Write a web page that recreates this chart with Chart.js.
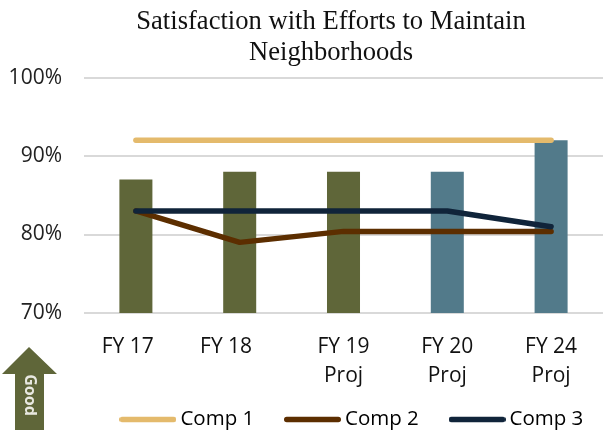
<!DOCTYPE html>
<html><head><meta charset="utf-8">
<style>
html,body{margin:0;padding:0;background:#fff;width:603px;height:433px;overflow:hidden}
#wrap{position:relative;width:603px;height:433px}
canvas{position:absolute;left:0;top:0}
#good{position:absolute;left:0;top:340px}
</style>
<script src="https://cdn.jsdelivr.net/npm/chart.js@4/dist/chart.umd.min.js"></script>
</head><body>
<div id="wrap">
<canvas id="c" width="603" height="433"></canvas>
<svg id="good" width="60" height="93" viewBox="0 340 60 93">
<path d="M29 347 L57 374 L44 374 L44 430 L15 430 L15 374 L2 374 Z" fill="#5f6639"/>
<text x="0" y="0" transform="translate(24.5 395) rotate(90)" text-anchor="middle" font-family="'Open Sans'" font-weight="700" font-size="16" fill="#e8e8e0">Good</text>
</svg>
</div>
<script>
const categories=[['FY 17   '],['FY 18     '],['FY 19','Proj'],['FY 20','Proj'],['FY 24','Proj']];
const barValues=[87,88,88,88,92];
const barColors=['#5f6639','#5f6639','#5f6639','#527a8a','#527a8a'];
const comp1=[92,92,92,92,92];
const comp2=[83,79,80.4,80.4,80.4];
const comp3=[83,83,83,83,81];
const titleLines=['Satisfaction with Efforts to Maintain','Neighborhoods'];
const yTicks=[70,80,90,100];
const line=(label,data,color,order)=>({type:'line',label,data,borderColor:color,backgroundColor:color,borderWidth:5.5,pointRadius:0,tension:0,borderCapStyle:'round',borderJoinStyle:'round',fill:false,order});
function swatch(color){
  const s=document.createElement('canvas');s.width=57;s.height=7;
  const g=s.getContext('2d');g.strokeStyle=color;g.lineWidth=5.5;g.lineCap='round';
  g.beginPath();g.moveTo(2.75,3.5);g.lineTo(54.25,3.5);g.stroke();
  return s;
}
const shift={id:'shift',afterLayout(ch){
  const t=ch.titleBlock; t.left=59; t.right=603;
  const l=ch.legend; l.left+=53; l.right+=53; l.top=373.2; l.bottom=433;
}};
new Chart(document.getElementById('c'),{
  data:{labels:categories,datasets:[
    line('Comp 1',comp1,'#e4ba6c',1),
    line('Comp 2',comp2,'#5c2e00',2),
    line('Comp 3',comp3,'#10243a',1),
    {type:'bar',label:'Score',data:barValues,backgroundColor:barColors,barPercentage:1,categoryPercentage:0.318,order:5}
  ]},
  plugins:[shift],
  options:{
    responsive:false,animation:false,
    layout:{padding:0},
    scales:{
      x:{grid:{display:false},border:{display:false},offset:true,
        ticks:{color:'#111',font:{family:'Open Sans',size:21,lineHeight:1.4},maxRotation:0,autoSkip:false,padding:11},
        afterFit(s){s.height=77;}},
      y:{min:70,max:100,grid:{color:'#d9d9d9',lineWidth:2,drawTicks:false},border:{display:false},
        afterBuildTicks(s){s.ticks=yTicks.map(v=>({value:v}));},
        ticks:{color:'#222',font:{family:'Open Sans',size:21},padding:22,callback:v=>v+'%'},
        afterFit(s){s.width=84;}}
    },
    plugins:{
      title:{display:true,text:titleLines,color:'#111',font:{family:'Liberation Serif',size:26.6,weight:'normal',lineHeight:1.17},padding:{top:6,bottom:9.3}},
      legend:{position:'bottom',maxHeight:43,
        labels:{usePointStyle:true,pointStyleWidth:44.5,boxHeight:20,padding:36,color:'#111',font:{family:'Open Sans',size:20.5},
          generateLabels(ch){return ch.data.datasets.filter(d=>d.type==='line').map((d,i)=>({text:d.label,pointStyle:swatch(d.borderColor),fillStyle:d.borderColor,strokeStyle:d.borderColor,lineWidth:0,datasetIndex:i}));}}},
      tooltip:{enabled:false}
    }
  }
});
</script>
</body></html>
